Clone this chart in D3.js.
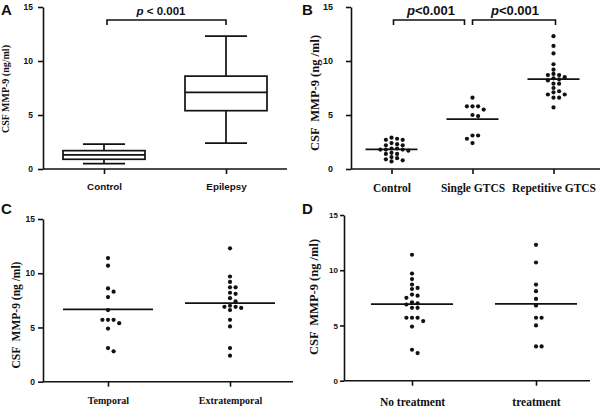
<!DOCTYPE html>
<html lang="en">
<head>
  <meta charset="UTF-8">
  <title>CSF MMP-9</title>
  <style>
    body { margin: 0; background: #fff; }
    text { fill: #111; }
  </style>
</head>
<body>
  <svg class="chart"></svg>
  <script src="https://cdn.jsdelivr.net/npm/d3@7"></script>
  <script>
    var yTicks = [0, 5, 10, 15];

    // panel A: box plot stats
    var boxCats = ["Control", "Epilepsy"],
        boxMin = [0.5, 2.4],
        boxQ1 = [0.9, 5.4],
        boxMed = [1.3, 7.1],
        boxQ3 = [1.7, 8.6],
        boxMax = [2.3, 12.3];

    // panel B
    var gtcsCats = ["Control", "Single GTCS", "Repetitive GTCS"],
        gtcsControl = [2.9, 2.8, 2.7, 2.7, 2.4, 2.3, 2.2, 2.2, 1.9, 1.9, 1.8, 1.8, 1.8, 1.7, 1.5, 1.4, 1.4, 1.1, 1.0, 0.9, 0.8, 0.7],
        gtcsSingle = [6.6, 5.8, 5.8, 5.8, 5.5, 5.0, 4.9, 3.1, 3.1, 2.8, 2.4],
        gtcsRepetitive = [12.3, 11.4, 10.7, 9.7, 9.2, 8.8, 8.7, 8.7, 8.5, 8.4, 8.3, 8.2, 7.9, 7.9, 7.5, 7.2, 7.1, 6.9, 6.9, 6.6, 6.6, 5.7];

    // panel C
    var siteCats = ["Temporal", "Extratemporal"],
        siteTemporal = [11.4, 10.7, 8.6, 8.3, 7.8, 6.6, 5.7, 5.7, 5.7, 5.4, 4.9, 3.1, 2.8],
        siteExtra = [12.3, 9.7, 9.2, 8.7, 8.7, 8.2, 8.1, 7.7, 7.4, 7.0, 6.9, 6.9, 6.8, 6.6, 5.7, 5.1, 3.1, 2.4];

    // panel D
    var treatCats = ["No treatment", "treatment"],
        treatNo = [11.4, 9.7, 9.2, 8.7, 8.4, 8.3, 7.8, 7.7, 7.5, 7.1, 7.0, 6.9, 6.6, 6.6, 5.7, 5.7, 5.7, 5.4, 4.9, 2.8, 2.5],
        treatYes = [12.3, 10.7, 8.7, 8.1, 7.4, 6.8, 5.7, 5.7, 5.0, 3.1, 3.1];

    var SANS = "'Liberation Sans', Arial, sans-serif",
        SERIF = "'Liberation Serif', 'Times New Roman', serif";

    var svg = d3.select(".chart").attr("width", 600).attr("height", 409);

    function panel(o) {
      var y = d3.scaleLinear().domain([0, 15]).range([o.y0, o.y15]);
      var x = d3.scalePoint().domain(o.cats).range(o.catRange).padding(0.5);
      var g = svg.append("g");

      var ya = g.append("g")
        .attr("transform", `translate(${o.axisX},0)`)
        .call(d3.axisLeft(y).tickValues(yTicks).tickSize(o.yTick).tickSizeOuter(0).tickPadding(o.yPad));
      ya.selectAll("text").attr("font-family", SANS).attr("font-weight", "bold").attr("font-size", o.yFs).attr("fill", "#111");

      var xa = g.append("g")
        .attr("transform", `translate(0,${o.y0})`)
        .call(d3.axisBottom(x).tickSize(5).tickSizeOuter(0).tickPadding(o.xPad));
      xa.select(".domain").attr("d", `M${o.axisX},0H${o.axisEnd}`);
      xa.selectAll("text").attr("font-family", o.catFont).attr("font-weight", "bold").attr("font-size", o.catFs).attr("fill", "#111");

      g.selectAll(".domain, .tick line").attr("stroke", "#111").attr("stroke-width", 1.6);

      g.append("text")
        .attr("transform", `translate(${o.labX},${o.labY}) rotate(-90)`)
        .attr("text-anchor", "middle")
        .attr("font-family", SERIF).attr("font-weight", "bold").attr("font-size", o.labFs)
        .style("white-space", "pre")
        .text(o.label);

      g.append("text")
        .attr("x", o.letter[0]).attr("y", o.letter[1])
        .attr("font-family", SANS).attr("font-weight", "bold").attr("font-size", 15)
        .text(o.name);

      return { x: x, y: y, g: g };
    }

    function swarm(vals, cx, y, dx) {
      var placed = [];
      return vals.slice().sort((a, b) => b - a).map(v => {
        var py = y(v);
        for (var i = 0; ; i++) {
          var k = i === 0 ? 0 : (i % 2 ? (i + 1) / 2 : -i / 2);
          if (!placed.some(p => p.k === k && Math.abs(p.y - py) < 4.3)) {
            placed.push({ k: k, y: py });
            return { cx: cx + k * dx, cy: py };
          }
        }
      });
    }

    function dots(p, groups, halfLine) {
      groups.forEach((vals, i) => {
        var cx = p.x(p.x.domain()[i]);
        p.g.selectAll(null)
          .data(swarm(vals, cx, p.y, 5.6))
          .enter().append("circle")
          .attr("cx", d => d.cx).attr("cy", d => d.cy).attr("r", 2.1)
          .attr("fill", "#111");
        var m = p.y(d3.mean(vals));
        p.g.append("line")
          .attr("x1", cx - halfLine).attr("x2", cx + halfLine)
          .attr("y1", m).attr("y2", m)
          .attr("stroke", "#111").attr("stroke-width", 1.8);
      });
    }

    function bracket(g, x1, x2, yTop, txt, fs, tx) {
      g.append("path")
        .attr("d", `M${x1},${yTop + 5}V${yTop}H${x2}V${yTop + 5}`)
        .attr("fill", "none").attr("stroke", "#111").attr("stroke-width", 1.6);
      var t = g.append("text")
        .attr("x", tx).attr("y", yTop - 5)
        .attr("text-anchor", "middle")
        .attr("font-family", SANS).attr("font-weight", "bold").attr("font-size", fs);
      t.append("tspan").attr("font-style", "italic").text("p");
      t.append("tspan").style("white-space", "pre").text(txt);
    }

    // ---- A ----
    var pA = panel({
      name: "A", letter: [1, 15], cats: boxCats,
      axisX: 43, axisEnd: 287, catRange: [43, 287], y0: 169, y15: 7,
      yTick: 5, yPad: 5, yFs: 8.5, xPad: 9, catFont: SANS, catFs: 9.8,
      label: "CSF MMP-9 (ng/ml)", labX: 9, labY: 89, labFs: 10
    });
    boxCats.forEach((c, i) => {
      var cx = pA.x(c), y = pA.y, hw = 41, cw = 21;
      var ln = (x1, y1, x2, y2) => pA.g.append("line")
        .attr("x1", x1).attr("y1", y1).attr("x2", x2).attr("y2", y2)
        .attr("stroke", "#111").attr("stroke-width", 1.7);
      ln(cx, y(boxMax[i]), cx, y(boxQ3[i]));
      ln(cx, y(boxQ1[i]), cx, y(boxMin[i]));
      ln(cx - cw, y(boxMax[i]), cx + cw, y(boxMax[i]));
      ln(cx - cw, y(boxMin[i]), cx + cw, y(boxMin[i]));
      pA.g.append("rect")
        .attr("x", cx - hw).attr("width", hw * 2)
        .attr("y", y(boxQ3[i])).attr("height", y(boxQ1[i]) - y(boxQ3[i]))
        .attr("fill", "#fff").attr("stroke", "#111").attr("stroke-width", 1.7);
      ln(cx - hw, y(boxMed[i]), cx + hw, y(boxMed[i]));
    });
    bracket(pA.g, pA.x("Control") + 3, pA.x("Epilepsy"), 20, " < 0.001", 11.5, 161);

    // ---- B ----
    var pB = panel({
      name: "B", letter: [302, 15], cats: gtcsCats,
      axisX: 351, axisEnd: 600, catRange: [351, 594], y0: 169, y15: 7,
      yTick: 5, yPad: 13, yFs: 9, xPad: 10, catFont: SERIF, catFs: 11.5,
      label: "CSF  MMP-9 (ng /ml)", labX: 319, labY: 93, labFs: 12.5
    });
    dots(pB, [gtcsControl, gtcsSingle, gtcsRepetitive], 26);
    bracket(pB.g, pB.x(gtcsCats[0]) + 2, pB.x(gtcsCats[1]) - 8, 20, "<0.001", 13, 431);
    bracket(pB.g, pB.x(gtcsCats[1]), pB.x(gtcsCats[2]) + 2, 20, "<0.001", 13, 515);

    // ---- C ----
    var pC = panel({
      name: "C", letter: [1, 214], cats: siteCats,
      axisX: 43, axisEnd: 293, catRange: [47, 291], y0: 381.7, y15: 219,
      yTick: 5, yPad: 3, yFs: 8.5, xPad: 10.5, catFont: SERIF, catFs: 10,
      label: "CSF  MMP-9 (ng /ml)", labX: 20, labY: 315, labFs: 11.5
    });
    dots(pC, [siteTemporal, siteExtra], 45);

    // ---- D ----
    var pD = panel({
      name: "D", letter: [302, 214], cats: treatCats,
      axisX: 344, axisEnd: 590, catRange: [350, 598], y0: 380.7, y15: 215,
      yTick: 4, yPad: 2, yFs: 8, xPad: 12.5, catFont: SERIF, catFs: 11.5,
      label: "CSF  MMP-9 (ng /ml)", labX: 318, labY: 297, labFs: 12.5
    });
    dots(pD, [treatNo, treatYes], 41);
  </script>
</body>
</html>
